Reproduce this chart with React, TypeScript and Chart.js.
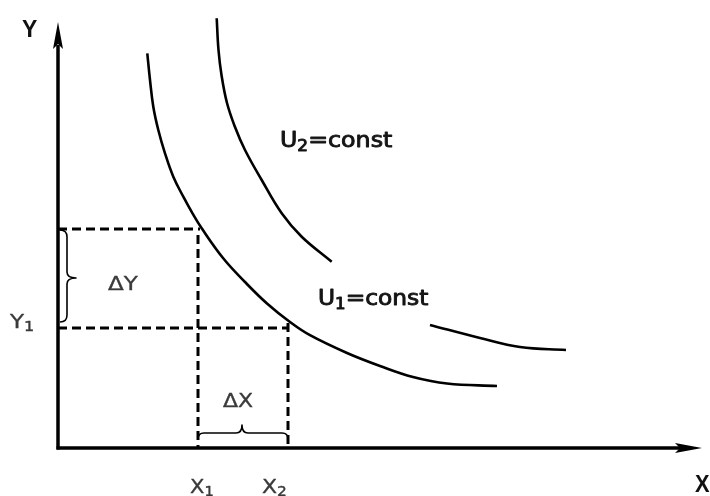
import React, { useEffect, useRef } from "react";
import { Chart, registerables } from "chart.js";

Chart.register(...registerables);

// ---- data (units: origin at the axes' intersection) ----
const X1 = 14.0;
const X2 = 23.0;
const Y1 = 12.0;
const Y2 = 21.9; // Y1 + ΔY

const u1X = [8.93, 9.2, 9.53, 10.03, 10.7, 11.53, 12.53, 13.45, 14.37, 16.5, 18.7, 20.9, 23.2, 25.2, 28.9, 32.2, 35.5, 38.9, 43.9];
const u1Y = [39.47, 36.8, 34.13, 31.8, 29.47, 27.13, 25.13, 23.47, 21.97, 19.0, 16.6, 14.45, 12.6, 11.28, 9.5, 8.2, 7.1, 6.45, 6.2];

const u2aX = [15.87, 16.05, 16.35, 16.9, 17.7, 18.7, 20.37, 22.37, 24.37, 27.37];
const u2aY = [42.97, 39.8, 37.3, 34.5, 32.1, 29.8, 26.8, 23.47, 21.13, 18.63];

const u2bX = [37.2, 42.2, 46.2, 50.8];
const u2bY = [12.3, 11.0, 10.1, 9.8];

const axisXMax = 64.4;
const axisYMax = 42.5;

const xLabel = "X";
const yLabel = "Y";
const u1Label = "U₁=const";
const u2Label = "U₂=const";

// ---- helpers ----
const pts = (xs: number[], ys: number[]) => xs.map((x, i) => ({ x, y: ys[i] }));

type Part = { t: string; sub?: boolean };
function parse(s: string): Part[] {
  const subs: Record<string, string> = { "₁": "1", "₂": "2" };
  const out: Part[] = [];
  for (const ch of s) {
    if (subs[ch]) out.push({ t: subs[ch], sub: true });
    else if (out.length && !out[out.length - 1].sub) out[out.length - 1].t += ch;
    else out.push({ t: ch });
  }
  return out;
}

function drawRich(
  ctx: CanvasRenderingContext2D,
  text: string,
  left: number,
  baseline: number,
  size: number,
  weight: string,
  family: string,
  sx: number,
  color: string,
  stroke: number
) {
  const parts = parse(text);
  ctx.save();
  ctx.fillStyle = color;
  ctx.strokeStyle = color;
  ctx.lineWidth = stroke;
  ctx.lineJoin = "round";
  ctx.textBaseline = "alphabetic";
  ctx.textAlign = "left";
  ctx.translate(left, baseline);
  ctx.scale(sx, 1);
  let cx = 0;
  for (const p of parts) {
    ctx.font = `${weight} ${p.sub ? Math.round(size * 0.7) : size}px ${family}`;
    const dy = p.sub ? size * 0.17 : 0;
    ctx.fillText(p.t, cx, dy);
    if (stroke > 0) ctx.strokeText(p.t, cx, dy);
    cx += ctx.measureText(p.t).width;
  }
  ctx.restore();
}

const decorPlugin = {
  id: "decor",
  afterDatasetsDraw(chart: any) {
    const ctx: CanvasRenderingContext2D = chart.ctx;
    const xs = chart.scales.x;
    const ys = chart.scales.y;
    const px = (v: number) => xs.getPixelForValue(v);
    const py = (v: number) => ys.getPixelForValue(v);

    ctx.save();
    ctx.fillStyle = "#000";
    // Y arrow head
    const yTipX = px(0);
    const yTipY = py(axisYMax) - 1;
    ctx.beginPath();
    ctx.moveTo(yTipX, yTipY);
    ctx.lineTo(yTipX - 5, yTipY + 27);
    ctx.lineTo(yTipX, yTipY + 22);
    ctx.lineTo(yTipX + 5, yTipY + 27);
    ctx.closePath();
    ctx.fill();
    // X arrow head
    const xTipX = px(axisXMax);
    const xTipY = py(0);
    ctx.beginPath();
    ctx.moveTo(xTipX, xTipY);
    ctx.lineTo(xTipX - 27, xTipY - 5);
    ctx.lineTo(xTipX - 22, xTipY);
    ctx.lineTo(xTipX - 27, xTipY + 5);
    ctx.closePath();
    ctx.fill();

    // braces
    ctx.strokeStyle = "#000";
    ctx.lineWidth = 1.6;
    ctx.lineJoin = "round";
    // ΔY brace
    const x0 = px(0) + 2;
    const bx = x0 + 7;
    const top = py(Y2) + 1;
    const bot = py(Y1) - 6;
    const mid = (top + bot) / 2 + 2;
    ctx.beginPath();
    ctx.moveTo(x0, top);
    ctx.quadraticCurveTo(bx, top, bx, top + 7);
    ctx.lineTo(bx, mid - 6);
    ctx.quadraticCurveTo(bx, mid, bx + 9, mid);
    ctx.quadraticCurveTo(bx, mid, bx, mid + 6);
    ctx.lineTo(bx, bot - 7);
    ctx.quadraticCurveTo(bx, bot, x0, bot);
    ctx.stroke();
    // ΔX brace
    const l = px(X1);
    const r = px(X2);
    const by = py(0) - 15;
    const m = (l + r) / 2 - 1;
    ctx.beginPath();
    ctx.moveTo(l, by + 6);
    ctx.quadraticCurveTo(l, by, l + 6, by);
    ctx.lineTo(m - 6, by);
    ctx.quadraticCurveTo(m, by, m, by - 8);
    ctx.quadraticCurveTo(m, by, m + 6, by);
    ctx.lineTo(r - 6, by);
    ctx.quadraticCurveTo(r, by, r, by + 6);
    ctx.stroke();
    ctx.restore();

    // texts
    const reg = '"DejaVu Sans", sans-serif';
    const bold = '"Liberation Sans", Arial, sans-serif';
    const sx = 1.15;
    drawRich(ctx, yLabel, px(0) - 36, py(axisYMax) + 14, 23, "bold", bold, 1.0, "#111", 0);
    drawRich(ctx, xLabel, px(axisXMax) - 7, py(0) + 44, 23, "bold", bold, 0.95, "#111", 0);
    drawRich(ctx, u2Label, px(22.2), py(30.1), 21, "normal", reg, 1.13, "#151515", 0.9);
    drawRich(ctx, u1Label, px(26.0), py(14.3), 21, "normal", reg, 1.11, "#151515", 0.9);
    drawRich(ctx, "ΔY", px(5.0), py((Y1 + Y2) / 2) + 11, 20, "normal", reg, sx, "#3a3a3a", 0.4);
    drawRich(ctx, "ΔX", (px(X1) + px(X2)) / 2 - 20, py(0) - 41, 20, "normal", reg, 1.1, "#3a3a3a", 0.4);
    drawRich(ctx, "Y₁", px(0) - 48, py(Y1), 20, "normal", reg, sx, "#3a3a3a", 0.4);
    drawRich(ctx, "X₁", px(X1) - 8, py(0) + 45, 20, "normal", reg, 1.05, "#3a3a3a", 0.4);
    drawRich(ctx, "X₂", px(X2) - 26, py(0) + 45, 20, "normal", reg, 1.1, "#3a3a3a", 0.4);
  },
};

export default function App() {
  const ref = useRef<HTMLCanvasElement | null>(null);
  useEffect(() => {
    if (!ref.current) return;
    const line = (data: any[], extra: any = {}) => ({
      data,
      showLine: true,
      pointRadius: 0,
      borderColor: "#000",
      backgroundColor: "#000",
      fill: false,
      borderWidth: 2.6,
      ...extra,
    });
    const dash = { borderDash: [9, 5], borderWidth: 3, borderCapStyle: "butt" };
    const curve = { tension: 0.4, borderWidth: 2.6 };
    const chart = new Chart(ref.current, {
      type: "scatter",
      data: {
        datasets: [
          // axes
          line([{ x: 0, y: -0.15 }, { x: 0, y: axisYMax - 2.2 }], { borderWidth: 3.5 }),
          line([{ x: -0.15, y: 0 }, { x: axisXMax - 2.2, y: 0 }], { borderWidth: 3.5 }),
          // dashed guides
          line([{ x: 0, y: Y2 }, { x: X1 + 0.2, y: Y2 }], dash),
          line([{ x: 0, y: Y1 }, { x: X2 + 0.1, y: Y1 }], dash),
          line([{ x: X1, y: Y2 - 0.6 }, { x: X1, y: 0 }], dash),
          line([{ x: X2, y: Y1 + 0.5 }, { x: X2, y: 0 }], dash),
          // indifference curves
          line(pts(u1X, u1Y), curve),
          line(pts(u2aX, u2aY), curve),
          line(pts(u2bX, u2bY), curve),
        ],
      },
      options: {
        animation: false,
        responsive: false,
        devicePixelRatio: 1,
        events: [],
        layout: { padding: 0 },
        plugins: { legend: { display: false }, tooltip: { enabled: false } },
        scales: {
          x: { type: "linear", min: -5.8, max: 65.2, display: false },
          y: { type: "linear", min: -4.8, max: 44.8, display: false },
        },
      },
      plugins: [decorPlugin],
    } as any);
    return () => chart.destroy();
  }, []);
  return (
    <div style={{ position: "absolute", left: 0, top: 0, width: 710, height: 496, background: "#fff" }}>
      <canvas ref={ref} width={710} height={496} style={{ display: "block", width: 710, height: 496 }} />
    </div>
  );
}
